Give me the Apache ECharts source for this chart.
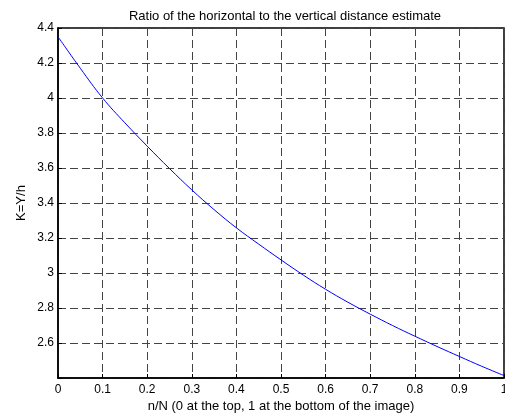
<!DOCTYPE html>
<html>
<head>
<meta charset="utf-8">
<script src="https://cdn.jsdelivr.net/npm/echarts@6/dist/echarts.min.js"></script>
<style>
  html, body { margin: 0; padding: 0; background: #fff; }
  #chart { width: 505px; height: 419px; }
</style>
</head>
<body>
<div id="chart"></div>
<script>
// n/N positions and K=Y/h values
var nN = [0, 0.05, 0.1, 0.15, 0.2, 0.25, 0.3, 0.35, 0.4, 0.45, 0.5,
          0.55, 0.6, 0.65, 0.7, 0.75, 0.8, 0.85, 0.9, 0.95, 1.0];
var kVals = [4.35, 4.17, 4.00, 3.858, 3.725, 3.597, 3.475, 3.362, 3.258, 3.165, 3.075,
             2.988, 2.907, 2.833, 2.765, 2.700, 2.639, 2.580, 2.523, 2.467, 2.414];

var chart = echarts.init(document.getElementById('chart'));
var fontFam = '"Liberation Sans", Arial, sans-serif';
var gridLine = { show: true, lineStyle: { color: '#444', type: [8, 4], width: 1 } };

var pts = [];
for (var i = 0; i < nN.length; i++) pts.push([nN[i], kVals[i]]);

var option = {
  backgroundColor: '#fff',
  animation: false,
  title: {
    text: 'Ratio of the horizontal to the vertical distance estimate',
    left: 280,
    top: 5,
    textAlign: 'center',
    textStyle: { fontFamily: fontFam, fontSize: 13, fontWeight: 'normal', color: '#000' }
  },
  grid: {
    left: 58, right: 1, top: 28, bottom: 41,
    outerBoundsMode: 'none',
    containLabel: false,
    show: true, borderColor: '#000', borderWidth: 1.5
  },
  xAxis: {
    type: 'value', min: 0, max: 1, interval: 0.1,
    name: 'n/N (0 at the top, 1 at the bottom of the image)',
    nameLocation: 'middle', nameGap: 22,
    nameMoveOverlap: false,
    nameTextStyle: { fontFamily: fontFam, fontSize: 13, color: '#000' },
    axisLine: { show: true, lineStyle: { color: '#000', width: 1.5 } },
    axisTick: { show: true, inside: true, length: 4, lineStyle: { color: '#000' } },
    axisLabel: {
      fontFamily: fontFam, fontSize: 12, color: '#000', margin: 6,
      formatter: function (v) { return (v === 0 || v === 1) ? String(v) : v.toFixed(1); }
    },
    splitLine: gridLine
  },
  yAxis: {
    type: 'value', min: 2.4, max: 4.4, interval: 0.2,
    name: 'K=Y/h',
    nameLocation: 'middle', nameGap: 30, nameRotate: 90,
    nameMoveOverlap: false,
    nameTextStyle: { fontFamily: fontFam, fontSize: 13, color: '#000' },
    axisLine: { show: true, lineStyle: { color: '#000', width: 1.5 } },
    axisTick: { show: true, inside: true, length: 4, lineStyle: { color: '#000' } },
    axisLabel: {
      fontFamily: fontFam, fontSize: 12, color: '#000', margin: 4,
      formatter: function (v) { return Math.abs(v - 2.4) < 1e-6 ? '' : String(+v.toFixed(1)); }
    },
    splitLine: gridLine
  },
  series: [{
    type: 'line',
    data: pts,
    smooth: 0.4,
    showSymbol: false,
    lineStyle: { color: '#0000ff', width: 1 }
  }]
};
chart.setOption(option);
</script>
</body>
</html>
